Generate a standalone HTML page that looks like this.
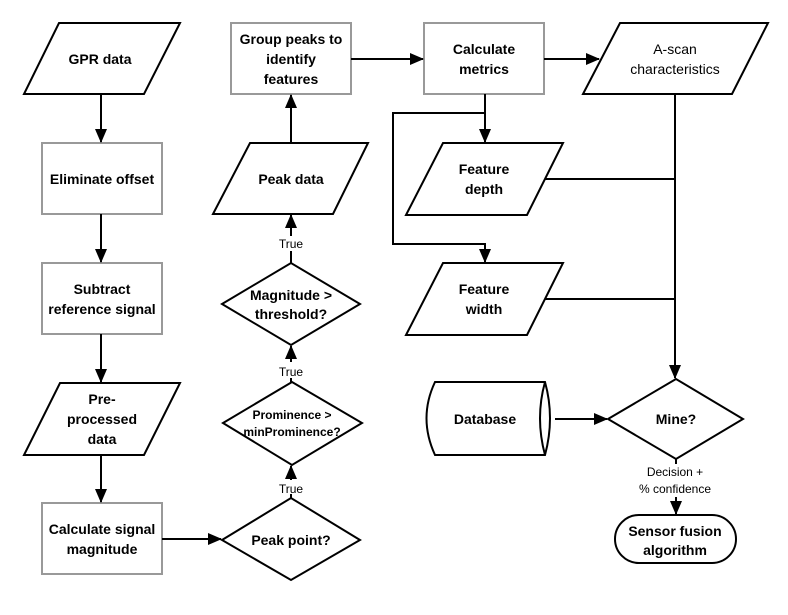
<!DOCTYPE html>
<html><head><meta charset="utf-8"><style>
html,body{margin:0;padding:0;background:#fff;width:788px;height:615px;overflow:hidden}
svg text{font-family:"Liberation Sans",sans-serif;font-size:14px;font-weight:bold;text-anchor:middle;fill:#000}
.s{font-size:12px;font-weight:normal}
</style></head><body>
<svg width="788" height="615" viewBox="0 0 788 615" xmlns="http://www.w3.org/2000/svg">
<defs><marker id="a" markerWidth="14" markerHeight="12" refX="13" refY="6" orient="auto" markerUnits="userSpaceOnUse"><path d="M0,0 L14,6 L0,12 z" fill="#000"/></marker></defs>
<g fill="#fff" stroke="#000" stroke-width="2">
<polygon points="59,23 180,23 144,94 24,94"/>
<polygon points="60,383 180,383 144,455 24,455"/>
<polygon points="250,143 368,143 333,214 213,214"/>
<polygon points="620,23 768,23 732,94 583,94"/>
<polygon points="443,143 563,143 527,215 406,215"/>
<polygon points="443,263 563,263 527,335 406,335"/>
<polygon points="222,540 291,498 360,540 291,580"/>
<polygon points="223,423 292,382 362,423 292,465"/>
<polygon points="222,304 291,263 360,304 291,345"/>
<polygon points="608,419 676,379 743,419 676,459"/>
<rect x="615" y="515" width="121" height="48" rx="24"/>
<path d="M435,382 L545,382 Q555,418 545,455 L435,455 Q418,418 435,382 Z"/>
<path d="M545,382 Q535,418 545,455"/>
</g>
<g fill="#fff" stroke="#999" stroke-width="2">
<rect x="42" y="143" width="120" height="71"/>
<rect x="42" y="263" width="120" height="71"/>
<rect x="42" y="503" width="120" height="71"/>
<rect x="231" y="23" width="120" height="71"/>
<rect x="424" y="23" width="120" height="71"/>
</g>
<g stroke="#000" stroke-width="2" fill="none" marker-end="url(#a)">
<line x1="101" y1="94" x2="101" y2="142"/>
<line x1="101" y1="214" x2="101" y2="262"/>
<line x1="101" y1="334" x2="101" y2="382"/>
<line x1="101" y1="455" x2="101" y2="502"/>
<line x1="162" y1="539" x2="221" y2="539"/>
<line x1="291" y1="480" x2="291" y2="466"/>
<line x1="291" y1="362" x2="291" y2="346"/>
<line x1="291" y1="236" x2="291" y2="215"/>
<line x1="291" y1="143" x2="291" y2="95"/>
<line x1="351" y1="59" x2="423" y2="59"/>
<line x1="544" y1="59" x2="599" y2="59"/>
<line x1="485" y1="94" x2="485" y2="142"/>
<polyline points="485,113 393,113 393,244 485,244 485,262"/>
<line x1="675" y1="94" x2="675" y2="378"/>
<line x1="555" y1="419" x2="607" y2="419"/>
<line x1="676" y1="497" x2="676" y2="514"/>
</g>
<g stroke="#000" stroke-width="2" fill="none">
<line x1="291" y1="498" x2="291" y2="494"/>
<line x1="291" y1="382" x2="291" y2="378"/>
<line x1="291" y1="263" x2="291" y2="251"/>
<line x1="545" y1="179" x2="675" y2="179"/>
<line x1="545" y1="299" x2="675" y2="299"/>
<line x1="676" y1="459" x2="676" y2="464"/>
</g>
<text x="100" y="64">GPR data</text>
<text x="102" y="184">Eliminate offset</text>
<text x="102" y="294">Subtract</text>
<text x="102" y="314">reference signal</text>
<text x="102" y="404">Pre-</text>
<text x="102" y="424">processed</text>
<text x="102" y="444">data</text>
<text x="102" y="534">Calculate signal</text>
<text x="102" y="554">magnitude</text>
<text x="291" y="545">Peak point?</text>
<text x="292" y="419" style="font-size:12px">Prominence &gt;</text>
<text x="292" y="436" style="font-size:12px">minProminence?</text>
<text x="291" y="300">Magnitude &gt;</text>
<text x="291" y="319">threshold?</text>
<text x="291" y="184">Peak data</text>
<text x="291" y="44">Group peaks to</text>
<text x="291" y="64">identify</text>
<text x="291" y="84">features</text>
<text x="484" y="54">Calculate</text>
<text x="484" y="74">metrics</text>
<text x="675" y="54" style="font-weight:normal">A-scan</text>
<text x="675" y="74" style="font-weight:normal">characteristics</text>
<text x="484" y="174">Feature</text>
<text x="484" y="194">depth</text>
<text x="484" y="294">Feature</text>
<text x="484" y="314">width</text>
<text x="485" y="424">Database</text>
<text x="676" y="424">Mine?</text>
<text x="675" y="536">Sensor fusion</text>
<text x="675" y="555">algorithm</text>
<text class="s" x="291" y="248">True</text>
<text class="s" x="291" y="376">True</text>
<text class="s" x="291" y="493">True</text>
<text class="s" x="675" y="476">Decision +</text>
<text class="s" x="675" y="493">% confidence</text>
</svg>
</body></html>
